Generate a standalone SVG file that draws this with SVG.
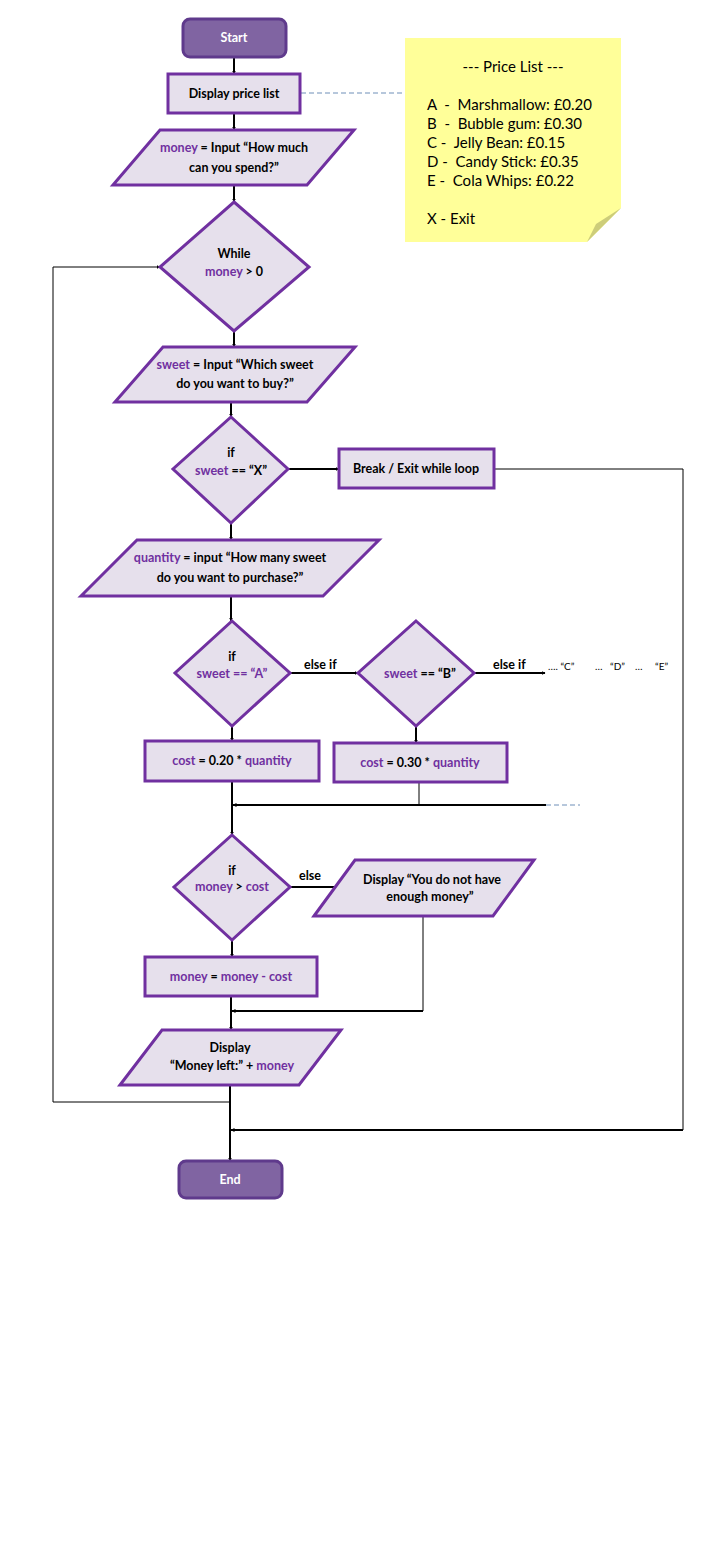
<svg xmlns="http://www.w3.org/2000/svg" width="720" height="1559" viewBox="0 0 720 1559">
<defs>
<marker id="ah" viewBox="0 0 8 8" refX="7" refY="4" markerWidth="4" markerHeight="4" orient="auto" markerUnits="userSpaceOnUse">
<path d="M0,0 L8,4 L0,8 z" fill="#000"/>
</marker>
<style>
text{white-space:pre}
.sh{fill:#E6E0EC;stroke:#7030A0;stroke-width:3}
.term{fill:#8064A2;stroke:#5F3A8C;stroke-width:3}
.t{font-family:Lato,"Open Sans",sans-serif;font-size:12.5px;font-weight:bold;fill:#000;text-anchor:middle}
.tw{font-family:Lato,"Open Sans",sans-serif;font-size:12.5px;font-weight:bold;fill:#fff;text-anchor:middle}
.v{fill:#7030A0}
.n{font-family:Lato,"Open Sans",sans-serif;font-size:15px;fill:#000}
.c{fill:none;stroke:#000;stroke-width:2}
.c1{fill:none;stroke:#000;stroke-width:1}
.d{fill:none;stroke:#6F8FB8;stroke-width:1;stroke-dasharray:5,3}
.lb{font-family:Lato,"Open Sans",sans-serif;font-size:12.5px;font-weight:bold;fill:#000}
.sm{font-family:Lato,"Open Sans",sans-serif;font-size:10px;fill:#000}
</style>
</defs>
<rect width="720" height="1559" fill="#fff"/>

<g id="connectors">
<line class="c" x1="234" y1="57" x2="234" y2="74" marker-end="url(#ah)"/>
<line class="c" x1="234" y1="113" x2="234" y2="130" marker-end="url(#ah)"/>
<line class="d" x1="301" y1="93" x2="405" y2="93"/>
<line class="c" x1="234" y1="185" x2="234" y2="202" marker-end="url(#ah)"/>
<line class="c" x1="234" y1="331" x2="234" y2="347" marker-end="url(#ah)"/>
<line class="c" x1="231" y1="402" x2="231" y2="417" marker-end="url(#ah)"/>
<line class="c" x1="288" y1="469" x2="339" y2="469" marker-end="url(#ah)"/>
<polyline class="c1" points="494,469 683,469 683,1130"/>
<line class="c" x1="683" y1="1130" x2="231" y2="1130" marker-end="url(#ah)"/>
<line class="c" x1="231" y1="523" x2="231" y2="540" marker-end="url(#ah)"/>
<line class="c" x1="231" y1="596" x2="231" y2="621" marker-end="url(#ah)"/>
<line class="c" x1="290" y1="673" x2="358" y2="673" marker-end="url(#ah)"/>
<line class="c" x1="474" y1="673" x2="545" y2="673" marker-end="url(#ah)"/>
<line class="c" x1="232" y1="726" x2="232" y2="741" marker-end="url(#ah)"/>
<line class="c" x1="416" y1="726" x2="416" y2="743" marker-end="url(#ah)"/>
<line class="c1" x1="419" y1="782" x2="419" y2="805"/>
<line class="c" x1="546" y1="805" x2="233" y2="805" marker-end="url(#ah)"/>
<line class="d" x1="546" y1="805" x2="580" y2="805"/>
<line class="c" x1="232" y1="781" x2="232" y2="835" marker-end="url(#ah)"/>
<line class="c" x1="290" y1="887" x2="338" y2="887"/>
<line class="c" x1="232" y1="940" x2="232" y2="957" marker-end="url(#ah)"/>
<polyline class="c1" points="423,916 423,1011"/>
<line class="c" x1="423" y1="1011" x2="232" y2="1011" marker-end="url(#ah)"/>
<line class="c" x1="231" y1="996" x2="231" y2="1030" marker-end="url(#ah)"/>
<line class="c" x1="230" y1="1085" x2="230" y2="1161" marker-end="url(#ah)"/>
<polyline class="c1" points="230,1102 53,1102 53,267 160,267" marker-end="url(#ah)"/>
</g>

<g id="start">
<rect class="term" x="183" y="19" width="103" height="38" rx="7"/>
<text class="tw" x="234" y="42">Start</text>
</g>

<g id="display-price-list">
<rect class="sh" x="168" y="74" width="132" height="39"/>
<text class="t" x="234" y="98">Display price list</text>
</g>

<g id="price-list-note">
<path d="M405,38 H621 V208 L587,242 H405 Z" fill="#FFFF99"/>
<path d="M621,208 L587,242 L596,224 Z" fill="#CDCD7A"/>
<text class="n" x="513" y="72" text-anchor="middle">--- Price List ---</text>
<text class="n" x="427" y="110">A  -  Marshmallow: £0.20</text>
<text class="n" x="427" y="129">B  -  Bubble gum: £0.30</text>
<text class="n" x="427" y="148">C -  Jelly Bean: £0.15</text>
<text class="n" x="427" y="167">D -  Candy Stick: £0.35</text>
<text class="n" x="427" y="186">E -  Cola Whips: £0.22</text>
<text class="n" x="427" y="224">X - Exit</text>
</g>

<g id="input-money">
<polygon class="sh" points="113,185 160,130 354,130 307,185"/>
<text class="t" x="234" y="152"><tspan class="v">money</tspan> = Input “How much</text>
<text class="t" x="234" y="172">can you spend?”</text>
</g>

<g id="while">
<polygon class="sh" points="234,202 309,267 234,331 160,267"/>
<text class="t" x="234" y="258">While</text>
<text class="t" x="234" y="276"><tspan class="v">money</tspan> &gt; 0</text>
</g>

<g id="input-sweet">
<polygon class="sh" points="115,402 163,347 355,347 307,402"/>
<text class="t" x="235" y="369"><tspan class="v">sweet</tspan> = Input “Which sweet</text>
<text class="t" x="235" y="388">do you want to buy?”</text>
</g>

<g id="if-x">
<polygon class="sh" points="231,417 288,469 231,523 173,469"/>
<text class="t" x="231" y="457">if</text>
<text class="t" x="231" y="475"><tspan class="v">sweet</tspan> == “X”</text>
</g>

<g id="break">
<rect class="sh" x="339" y="449" width="155" height="39"/>
<text class="t" x="416" y="473">Break / Exit while loop</text>
</g>

<g id="input-quantity">
<polygon class="sh" points="81,596 137,540 379,540 323,596"/>
<text class="t" x="230" y="562"><tspan class="v">quantity</tspan> = input “How many sweet</text>
<text class="t" x="230" y="582">do you want to purchase?”</text>
</g>

<g id="if-a">
<polygon class="sh" points="232,621 290,673 232,726 175,673"/>
<text class="t" x="232" y="661">if</text>
<text class="t" x="232" y="678"><tspan class="v">sweet == “A”</tspan></text>
</g>
<text class="lb" x="304" y="669">else if</text>

<g id="if-b">
<polygon class="sh" points="416,621 474,673 416,726 358,673"/>
<text class="t" x="420" y="678"><tspan class="v">sweet</tspan> == “B”</text>
</g>
<text class="lb" x="493" y="669">else if</text>
<text class="sm" y="670"><tspan x="548">…. “C”</tspan><tspan x="595">…</tspan><tspan x="610">“D”</tspan><tspan x="635">…</tspan><tspan x="655">“E”</tspan></text>

<g id="cost-a">
<rect class="sh" x="145" y="741" width="174" height="40"/>
<text class="t" x="232" y="765"><tspan class="v">cost</tspan> = 0.20 * <tspan class="v">quantity</tspan></text>
</g>

<g id="cost-b">
<rect class="sh" x="334" y="743" width="173" height="39"/>
<text class="t" x="420" y="767"><tspan class="v">cost</tspan> = 0.30 * <tspan class="v">quantity</tspan></text>
</g>

<g id="if-cost">
<polygon class="sh" points="232,835 290,887 232,940 174,887"/>
<text class="t" x="232" y="875">if</text>
<text class="t" x="232" y="891"><tspan class="v">money</tspan> &gt; <tspan class="v">cost</tspan></text>
</g>
<text class="lb" x="299" y="880">else</text>

<g id="not-enough">
<polygon class="sh" points="314,916 355,860 534,860 493,916"/>
<text class="t" x="432" y="884">Display “You do not have</text>
<text class="t" x="430" y="901">enough money”</text>
</g>

<g id="subtract">
<rect class="sh" x="145" y="957" width="172" height="39"/>
<text class="t" x="231" y="981"><tspan class="v">money</tspan> = <tspan class="v">money - cost</tspan></text>
</g>

<g id="display-left">
<polygon class="sh" points="120,1085 162,1030 341,1030 299,1085"/>
<text class="t" x="230" y="1052">Display</text>
<text class="t" x="232" y="1070">“Money left:” + <tspan class="v">money</tspan></text>
</g>

<g id="end">
<rect class="term" x="179" y="1161" width="103" height="37" rx="7"/>
<text class="tw" x="230" y="1184">End</text>
</g>
</svg>
